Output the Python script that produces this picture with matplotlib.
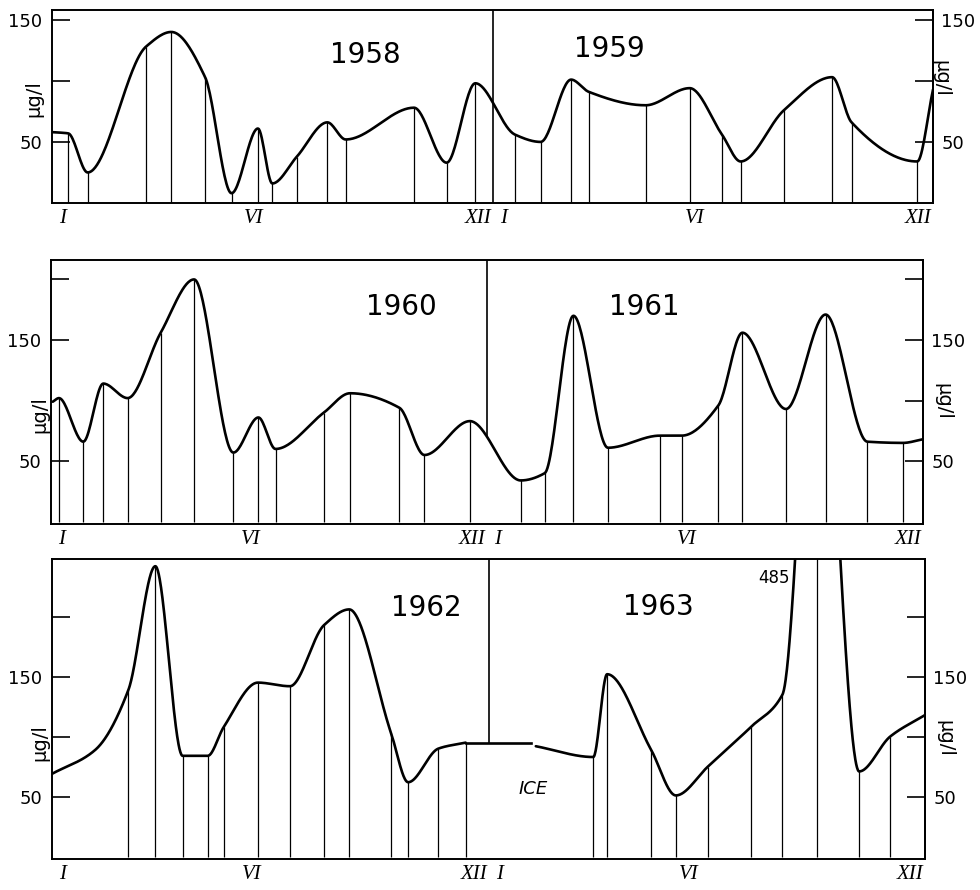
import numpy as np
import matplotlib.pyplot as plt

# months counted from 1 Jan of the first year of each panel (0-24), values in ug/l
# flag 1 = sampling date (drawn as a vertical line), 0 = only a point on the curve
m_5859 = [0.0, 0.44, 0.97, 2.56, 3.25, 4.17, 4.89, 5.61, 6.0, 6.67, 7.5, 8.0, 9.86, 10.75,
          11.53, 12.61, 13.31, 14.14, 14.62, 16.17, 17.37, 18.25, 18.76, 19.94, 21.25,
          21.78, 23.57, 24.0]
v_5859 = [58, 57, 25, 128, 140, 103, 8, 61, 16, 38, 66, 52, 78, 33,
          98, 56, 50, 101, 91, 80, 94, 56, 34, 76, 103,
          66, 34, 93]
s_5859 = [0] + [1] * 26 + [0]

m_6061 = [0.05, 0.22, 0.89, 1.44, 2.11, 3.02, 3.94, 5.02, 5.71, 6.18, 7.51, 8.23, 9.59,
          10.28, 11.53, 12.93, 13.59, 14.38, 15.33, 16.76, 17.36, 18.37, 19.03, 20.23,
          21.32, 22.47, 23.45, 24.0]
v_6061 = [99, 102, 66, 114, 102, 156, 200, 57, 86, 60, 90, 106, 94,
          55, 83, 34, 40, 170, 61, 71, 71, 96, 156, 93,
          171, 66, 65, 68]
s_6061 = [0] + [1] * 26 + [0]

m_62 = [0.0, 1.19, 2.10, 2.84, 3.59, 4.28, 4.72, 5.66, 6.54, 7.48, 8.17, 9.32, 9.79, 10.62, 11.37]
v_62 = [69, 89, 139, 242, 84, 84, 108, 145, 142, 193, 206, 103, 62, 90, 95]
s_62 = [0, 0] + [1] * 13

# ice cover: level held flat
ice_from, ice_to, ice_level = 11.37, 13.18, 95

m_63 = [13.3, 14.88, 15.26, 16.47, 17.15, 18.03, 19.21, 20.08, 21.04, 22.19, 23.04, 24.0]
v_63 = [92, 83, 152, 89, 51, 75, 108, 135, 485, 71, 100, 118]
s_63 = [0] + [1] * 10 + [0]

month_pos = [0.3, 5.5, 11.6, 12.3, 17.5, 23.6]
month_lab = ['I', 'VI', 'XII', 'I', 'VI', 'XII']


def pchip(x, y, n=900):
    # monotone cubic through the points, so the line looks drawn by hand
    x = np.asarray(x, float)
    y = np.asarray(y, float)
    h = np.diff(x)
    d = np.diff(y) / h
    m = np.zeros_like(y)
    m[0], m[-1] = d[0], d[-1]
    for k in range(1, len(x) - 1):
        if d[k - 1] * d[k] > 0:
            w1 = 2 * h[k] + h[k - 1]
            w2 = h[k] + 2 * h[k - 1]
            m[k] = (w1 + w2) / (w1 / d[k - 1] + w2 / d[k])
    xs = np.linspace(x[0], x[-1], n)
    i = np.clip(np.searchsorted(x, xs) - 1, 0, len(x) - 2)
    t = (xs - x[i]) / h[i]
    ys = ((2 * t**3 - 3 * t**2 + 1) * y[i] + (t**3 - 2 * t**2 + t) * h[i] * m[i]
          + (-2 * t**3 + 3 * t**2) * y[i + 1] + (t**3 - t**2) * h[i] * m[i + 1])
    return xs, ys


def draw_series(ax, m, v, s):
    xs, ys = pchip(m, v)
    ax.plot(xs, ys, color='k', lw=1.9, solid_capstyle='round')
    mm = [a for a, f in zip(m, s) if f]
    vv = [b for b, f in zip(v, s) if f]
    ax.vlines(mm, 0, vv, color='k', lw=0.9)
    return xs, ys


def setup(ax, ylim, lticks, llabels, rticks, rlabels):
    ax.set_xlim(0, 24)
    ax.set_ylim(*ylim)
    for sp in ax.spines.values():
        sp.set_linewidth(1.4)
    ax.set_xticks(month_pos)
    ax.set_xticklabels(month_lab, family='Liberation Serif', style='italic', fontsize=15)
    ax.tick_params(axis='x', length=0, pad=4)
    ax.set_yticks(lticks)
    ax.set_yticklabels(llabels, fontsize=13)
    ax.tick_params(axis='y', direction='in', length=13, width=1.2, pad=7)
    sec = ax.secondary_yaxis('right')
    sec.set_yticks(rticks)
    sec.set_yticklabels(rlabels, fontsize=13)
    sec.tick_params(direction='in', length=13, width=1.2, pad=6)
    sec.spines['right'].set_linewidth(1.4)


fig = plt.figure(figsize=(9.8, 8.9), dpi=100)
year_kw = dict(fontsize=20, ha='center', va='center', family='DejaVu Sans')

# 1958 / 1959
ax1 = fig.add_axes([0.0531, 0.7719, 0.899, 0.2169])
setup(ax1, (0, 158), [50, 100, 150], ['50', '', '150'], [50, 100, 150], ['50', '', '150'])
draw_series(ax1, m_5859, v_5859, s_5859)
ax1.vlines(12, 0, 158, color='k', lw=1.2)
ax1.text(8.53, 121, '1958', **year_kw)
ax1.text(15.18, 126, '1959', **year_kw)

# 1960 / 1961
ax2 = fig.add_axes([0.052, 0.4112, 0.8898, 0.2966])
setup(ax2, (-2, 216), [50, 150, 200], ['50', '150', ''], [50, 100, 150, 200], ['50', '', '150', ''])
xs, ys = draw_series(ax2, m_6061, v_6061, s_6061)
ax2.vlines(12, np.interp(12, xs, ys), 216, color='k', lw=1.2)
ax2.text(9.64, 177, '1960', **year_kw)
ax2.text(16.32, 177, '1961', **year_kw)

# 1962 / 1963
ax3 = fig.add_axes([0.0531, 0.0348, 0.8908, 0.3371])
setup(ax3, (-2, 248), [50, 100, 150, 200], ['50', '', '150', ''], [50, 100, 150, 200], ['50', '', '150', ''])
draw_series(ax3, m_62, v_62, s_62)
ax3.plot([ice_from, ice_to], [ice_level, ice_level], color='k', lw=1.9)
draw_series(ax3, m_63, v_63, s_63)
ax3.vlines(12, ice_level, 248, color='k', lw=1.2)
ax3.text(10.29, 207, '1962', **year_kw)
ax3.text(16.66, 208, '1963', **year_kw)
ax3.text(19.84, 232, '485', fontsize=12, ha='center', va='center')
ax3.text(13.23, 56, 'ICE', fontsize=13, style='italic', ha='center', va='center')

# unit labels on both sides
for x, y, rot in [(34, 99, 90), (40, 415, 90), (40, 743, 90),
                  (941, 78, 270), (943, 401, 270), (945, 738, 270)]:
    fig.text(x / 980, 1 - y / 890, 'μg/l', rotation=rot, fontsize=14,
             ha='center', va='center')

fig.savefig('out.png', dpi=100)
